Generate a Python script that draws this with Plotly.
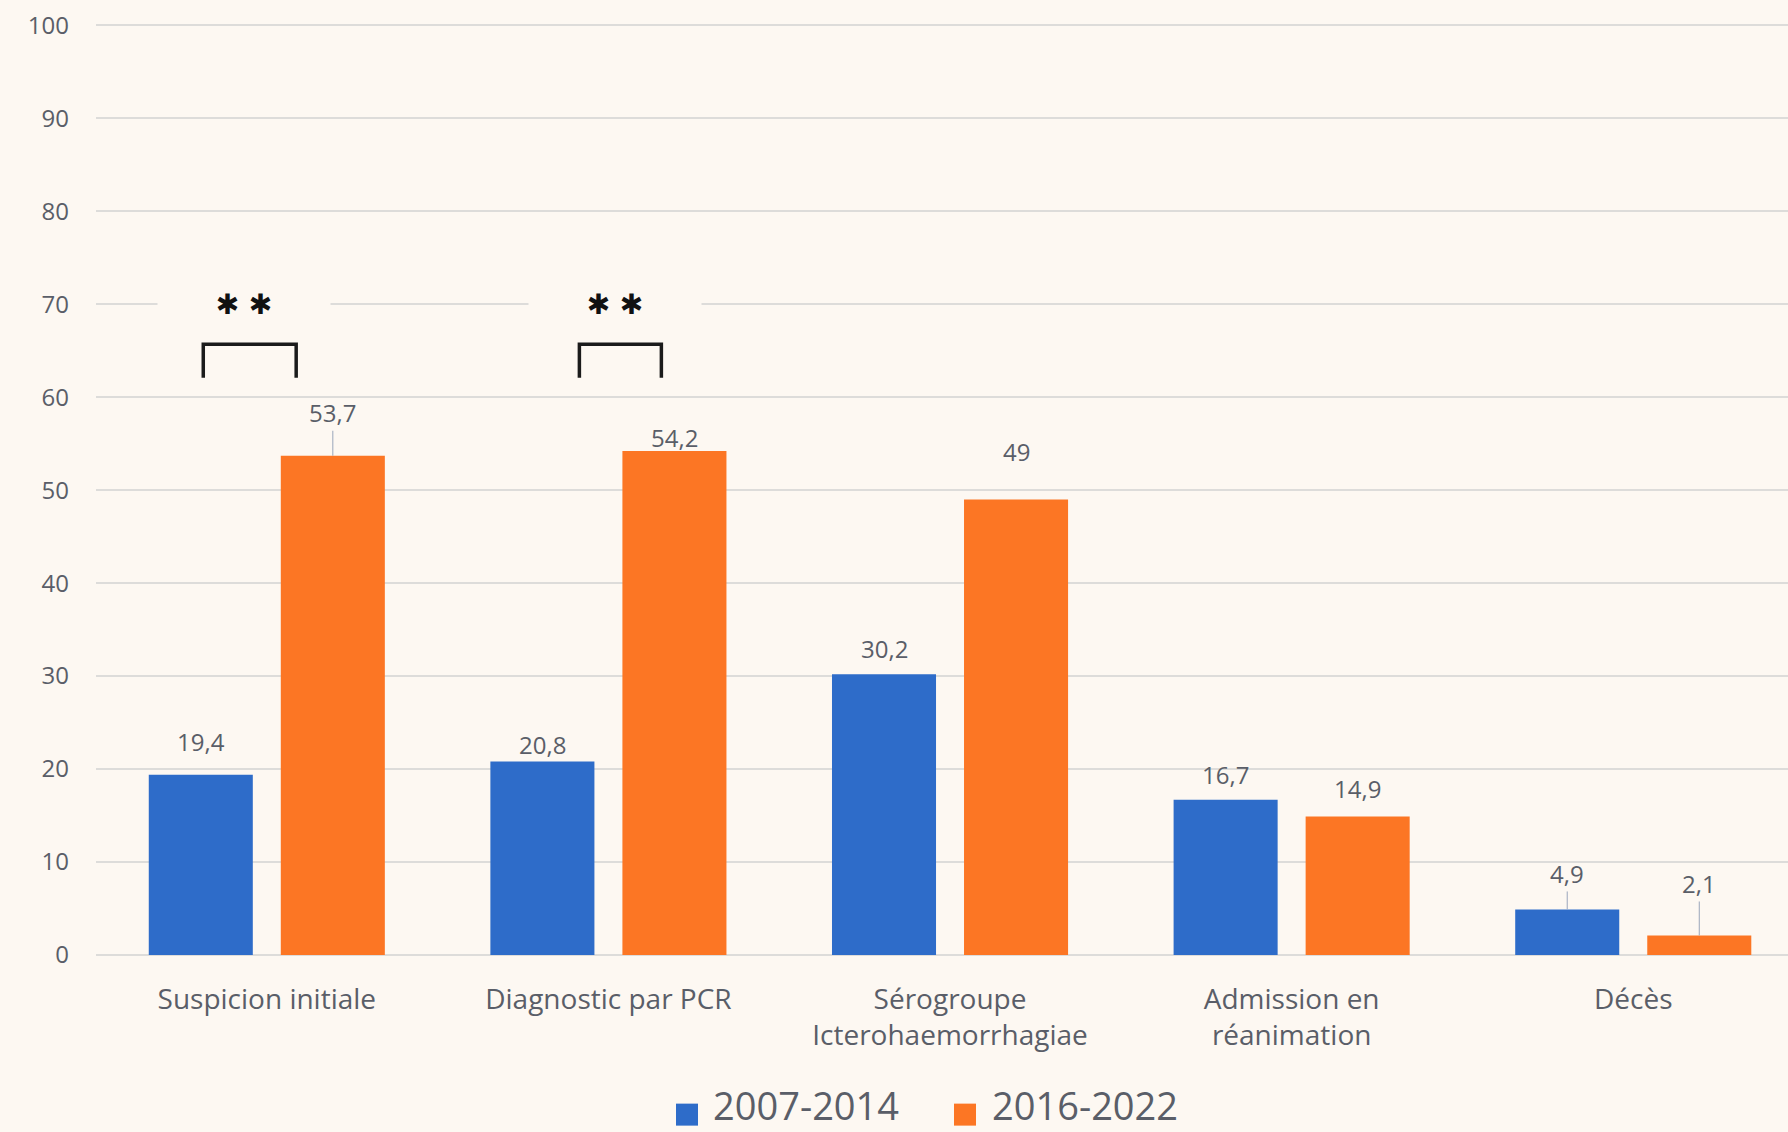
import plotly.graph_objects as go

# ---- data -------------------------------------------------------------
categories = [
    "Suspicion initiale",
    "Diagnostic par PCR",
    "Sérogroupe<br>Icterohaemorrhagiae",
    "Admission en<br>réanimation",
    "Décès",
]
series_names = ["2007-2014", "2016-2022"]
values_2007_2014 = [19.4, 20.8, 30.2, 16.7, 4.9]
values_2016_2022 = [53.7, 54.2, 49, 14.9, 2.1]
y_tick_values = [0, 10, 20, 30, 40, 50, 60, 70, 80, 90, 100]
significant_groups = [0, 1]

# ---- styling ----------------------------------------------------------
BG = "#fdf8f2"
TEXT = "#5a5e68"
GRID = "#dddcda"
BLUE = "#2e6cc9"
ORANGE = "#fc7624"
FONT = "Open Sans"

BARGAP = 0.227
BARGROUPGAP = 0.212
half_slot = (1 - BARGAP) / 4  # centre offset of each bar from its category

# pixel lift of each value label above its bar; leader line drawn where flagged
label_lift = {
    0: [33, 17, 26, 25, 36],
    1: [43, 14, 48, 28, 52],
}
leader_line = {
    0: [False, False, False, False, True],
    1: [True, False, False, False, True],
}

# significance brackets: span relative to category centre, bracket heights
bracket_span = [(-0.186, 0.086), (-0.085, 0.155)]
bracket_top, bracket_foot = 65.7, 62.1
star_offset = [-0.066, 0.02]
star_level = 70

x_pos = list(range(len(categories)))
series_values = [values_2007_2014, values_2016_2022]
series_colors = [BLUE, ORANGE]

fig = go.Figure()
for name, vals, col in zip(series_names, series_values, series_colors):
    fig.add_trace(
        go.Bar(
            x=x_pos,
            y=vals,
            name=name,
            marker=dict(color=col, line=dict(width=0)),
            showlegend=False,
            hoverinfo="skip",
        )
    )


def fmt(v):
    return f"{v:g}".replace(".", ",")


annotations = []
for s, vals in enumerate(series_values):
    sign = -1 if s == 0 else 1
    for i, v in enumerate(vals):
        annotations.append(
            dict(
                x=i + sign * half_slot,
                y=v,
                xref="x",
                yref="y",
                text=fmt(v),
                showarrow=True,
                arrowhead=0,
                arrowwidth=1,
                arrowcolor="#9aa6bb" if leader_line[s][i] else "rgba(0,0,0,0)",
                standoff=0,
                ax=0,
                ay=-label_lift[s][i],
                font=dict(family=FONT, size=24, color=TEXT),
            )
        )

shapes = []
for g, (a, b) in zip(significant_groups, bracket_span):
    x0, x1 = g + a, g + b
    shapes.append(
        dict(
            type="path",
            xref="x",
            yref="y",
            path=f"M {x0},{bracket_foot} L {x0},{bracket_top} L {x1},{bracket_top} L {x1},{bracket_foot}",
            line=dict(color="#1b1b1b", width=3.5),
        )
    )

for g, off in zip(significant_groups, star_offset):
    annotations.append(
        dict(
            x=g + off,
            y=star_level,
            xref="x",
            yref="y",
            text="<b>✱\u00a0✱</b>",
            showarrow=False,
            font=dict(family="DejaVu Sans", size=28, color="#111111"),
            bgcolor=BG,
            width=170,
            height=34,
        )
    )

# legend: coloured squares with their period labels under the axis
legend_items = [(0.3493, 0.3635), (0.5136, 0.5285)]
for (sq_x, tx_x), name, col in zip(legend_items, series_names, series_colors):
    shapes.append(
        dict(
            type="rect",
            xref="paper",
            yref="paper",
            xsizemode="pixel",
            ysizemode="pixel",
            xanchor=sq_x,
            yanchor=-0.1700,
            x0=-11,
            x1=11,
            y0=-11,
            y1=11,
            fillcolor=col,
            line=dict(width=0),
        )
    )
    annotations.append(
        dict(
            x=tx_x,
            y=-0.1600,
            xref="paper",
            yref="paper",
            xanchor="left",
            yanchor="middle",
            text=name,
            showarrow=False,
            font=dict(family=FONT, size=38, color=TEXT),
        )
    )

fig.update_layout(
    width=1788,
    height=1132,
    autosize=False,
    margin=dict(l=96, r=0, t=16, b=177),
    paper_bgcolor=BG,
    plot_bgcolor=BG,
    barmode="group",
    bargap=BARGAP,
    bargroupgap=BARGROUPGAP,
    font=dict(family=FONT, color=TEXT),
    annotations=annotations,
    shapes=shapes,
    showlegend=False,
)
fig.update_xaxes(
    type="linear",
    range=[-0.5, 4.453],
    tickmode="array",
    tickvals=x_pos,
    ticktext=categories,
    tickfont=dict(family=FONT, size=28, color=TEXT),
    showgrid=False,
    zeroline=False,
    showline=False,
    ticks="",
    ticklabelstandoff=25,
    fixedrange=True,
)
fig.update_yaxes(
    range=[0, 101],
    tickmode="array",
    tickvals=y_tick_values,
    tickfont=dict(family=FONT, size=24, color=TEXT),
    showgrid=True,
    gridcolor=GRID,
    gridwidth=1.5,
    zeroline=True,
    zerolinecolor=GRID,
    zerolinewidth=1.5,
    showline=False,
    ticks="",
    ticklabelstandoff=26,
    fixedrange=True,
)

fig.write_html("out.html", config={"displayModeBar": False})
